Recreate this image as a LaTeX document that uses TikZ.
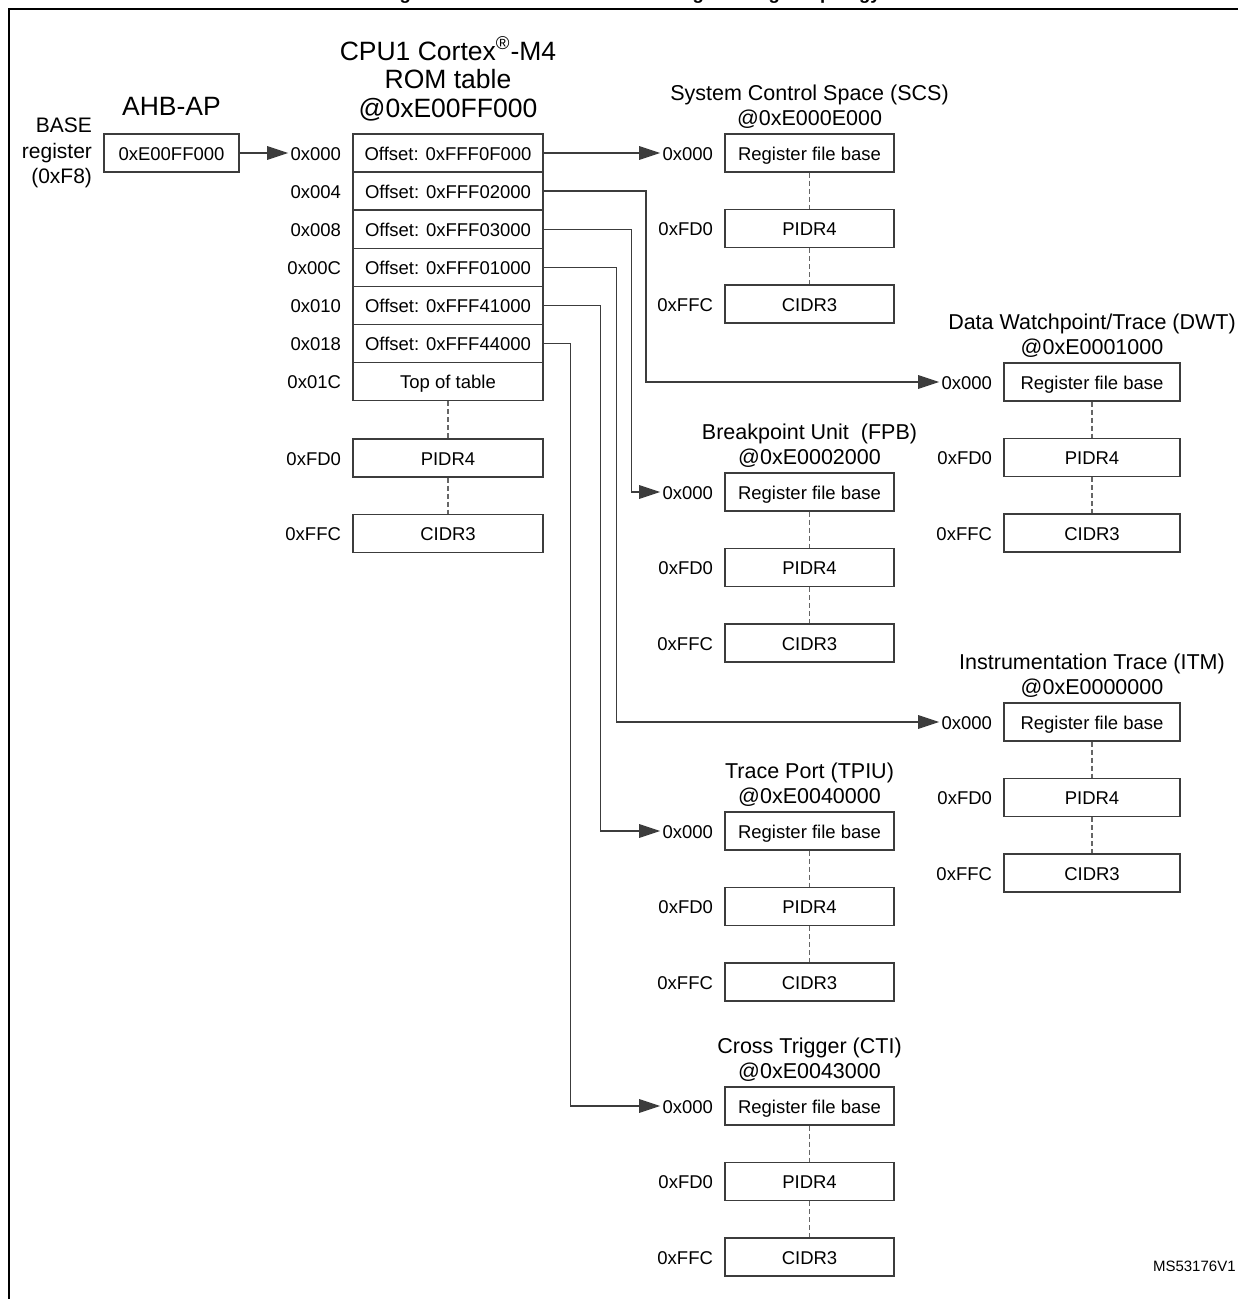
\documentclass[tikz,border=0pt]{standalone}
\usepackage{fontspec}
\setmainfont{Liberation Sans}
\usetikzlibrary{arrows.meta}

\definecolor{boxline}{HTML}{3C3C3C}
\definecolor{dashline}{HTML}{666666}

\newcommand{\boxfont}{\fontsize{9.25pt}{11pt}\selectfont}
\newcommand{\headfont}{\fontsize{10.75pt}{12.5pt}\selectfont}
\newcommand{\bigfont}{\fontsize{13.25pt}{14.25pt}\selectfont}

\begin{document}
\begin{tikzpicture}[x=0.5pt, y=-0.5pt,
    regbox/.style={draw=boxline, line width=0.65pt, minimum height=19pt, inner sep=0pt, text height=0.95em, text depth=0.24em, font=\boxfont},
    addr/.style={anchor=east, inner sep=1pt, text height=0.95em, text depth=0.24em, font=\boxfont},
    head/.style={align=center, inner sep=0pt, anchor=south, font=\headfont},
    wire/.style={draw=boxline, line width=0.65pt},
    feed/.style={wire, -{Triangle[length=10.5pt, width=6.8pt]}},
    dots/.style={draw=dashline, line width=0.65pt, dash pattern=on 2.5pt off 1.5pt}]

    \useasboundingbox (0,0) rectangle (1238,1299);

    % caption (cut at the top) and frame
    \begin{scope}
        \clip (0,0) rectangle (1238,1299);
        \node[anchor=base, inner sep=0pt, font=\fontsize{9.25pt}{11pt}\selectfont\bfseries] (caption) at (632,-0.5) {Figure 412. CPU1 Cortex\textsuperscript{\textregistered}-M4 debug CoreSight topology};
    \end{scope}
    \draw[line width=1.2pt] (9,1299) -- (9,9) -- (1238,9);

    % AHB-AP
    \node[regbox, minimum width=67.5pt] (ahb) at (171.5,153) {0xE00FF000};
    \node[anchor=base, inner sep=0pt, font=\bigfont] (ahbtitle) at ([yshift=8.75pt]ahb.north) {AHB-AP};
    \node[anchor=east, align=right, inner sep=0pt, font=\fontsize{10.5pt}{12.8pt}\selectfont] (basereg) at ([xshift=-5.5pt]ahb.west) {BASE\\register\\(0xF8)};

    % ROM table
    \foreach \i/\off/\txt in {0/0x000/{Offset: 0xFFF0F000}, 1/0x004/{Offset: 0xFFF02000}, 2/0x008/{Offset: 0xFFF03000}, 3/0x00C/{Offset: 0xFFF01000}, 4/0x010/{Offset: 0xFFF41000}, 5/0x018/{Offset: 0xFFF44000}, 6/0x01C/{Top of table}} {
        \node[regbox, minimum width=95pt, minimum height=19.05pt] (rom\i) at (448,{153+38.1*\i}) {\txt};
        \node[addr] (rom\i-addr) at ([xshift=-4.5pt]rom\i.west) {\off};
    }
    \node[regbox, minimum width=95pt] (rompid) at (448,458) {PIDR4};
    \node[addr] (rompid-addr) at ([xshift=-4.5pt]rompid.west) {0xFD0};
    \node[regbox, minimum width=95pt] (romcid) at (448,533.5) {CIDR3};
    \node[addr] (romcid-addr) at ([xshift=-4.5pt]romcid.west) {0xFFC};
    \draw[dots] (rom6) -- (rompid);
    \draw[dots] (rompid) -- (romcid);
    \node[head, font=\bigfont] (romtitle) at ([yshift=6pt]rom0.north) {CPU1 Cortex\textsuperscript{\textregistered}-M4\\ROM table\\@0xE00FF000};

    \draw[feed] (ahb) -- (rom0-addr);

    % components
    \foreach \blk/\cx/\ty/\bw/\ttl in {
        scs/809.5/134/84.5pt/{System Control Space (SCS)\\@0xE000E000},
        dwt/1092/363/88pt/{Data Watchpoint/Trace (DWT)\\@0xE0001000},
        fpb/809.5/473/84.5pt/{Breakpoint Unit~ (FPB)\\@0xE0002000},
        itm/1092/703/88pt/{Instrumentation Trace (ITM)\\@0xE0000000},
        tpiu/809.5/812/84.5pt/{Trace Port (TPIU)\\@0xE0040000},
        cti/809.5/1087/84.5pt/{Cross Trigger (CTI)\\@0xE0043000}} {
        \node[regbox, minimum width=\bw] (\blk-base) at (\cx,{\ty+19}) {Register file base};
        \node[regbox, minimum width=\bw] (\blk-pid) at (\cx,{\ty+94.5}) {PIDR4};
        \node[regbox, minimum width=\bw] (\blk-cid) at (\cx,{\ty+170}) {CIDR3};
        \node[addr] (\blk-addr) at ([xshift=-4.5pt]\blk-base.west) {0x000};
        \node[addr] (\blk-pidaddr) at ([xshift=-4.5pt]\blk-pid.west) {0xFD0};
        \node[addr] (\blk-cidaddr) at ([xshift=-4.5pt]\blk-cid.west) {0xFFC};
        \draw[dots] (\blk-base) -- (\blk-pid);
        \draw[dots] (\blk-pid) -- (\blk-cid);
        \node[head] (\blk-title) at ([yshift=2pt]\blk-base.north) {\ttl};
    }

    % ROM entries to components
    \draw[feed] (rom0) -- (scs-addr);
    \foreach \i/\blk/\bx in {1/dwt/646, 2/fpb/631.7, 3/itm/616.6, 4/tpiu/600.7, 5/cti/570.7}
        \draw[feed] (rom\i.east) -- (\bx,{153+38.1*\i}) |- (\blk-addr);

    \node[anchor=base east, inner sep=0pt, font=\fontsize{7.5pt}{9pt}\selectfont] (docref) at (1236,1271) {MS53176V1};
\end{tikzpicture}
\end{document}
